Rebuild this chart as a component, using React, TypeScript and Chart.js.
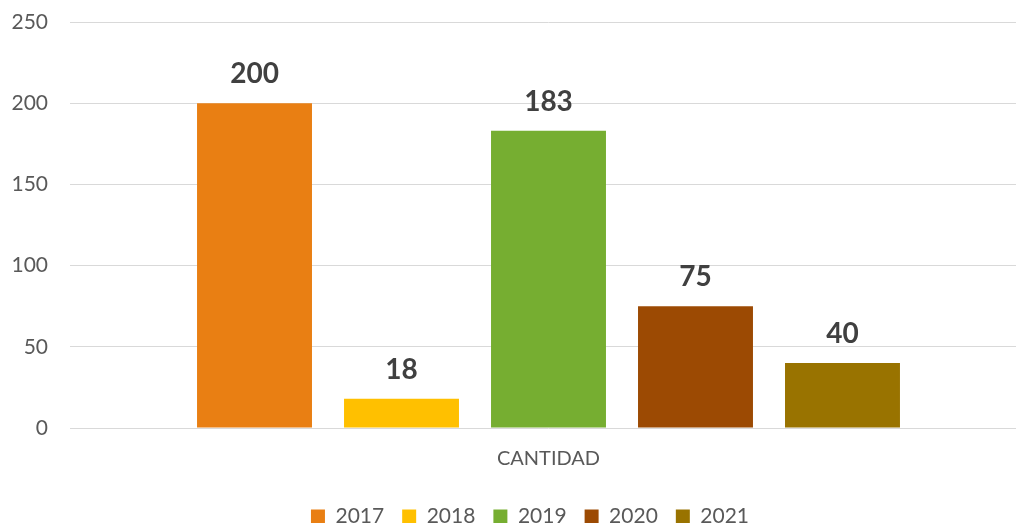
import React, { useEffect, useRef } from "react";
import { Chart, registerables } from "chart.js";

Chart.register(...registerables);

const categories = ["CANTIDAD"];
const seriesNames = ["2017", "2018", "2019", "2020", "2021"];
const seriesValues = [[200], [18], [183], [75], [40]];
const seriesColors = ["#E97F13", "#FFC000", "#76AE31", "#9C4A03", "#997300"];
const yTicks = [0, 50, 100, 150, 200, 250];

const FONT = "Lato, Carlito, 'Open Sans', sans-serif";

const dataLabels = {
  id: "dataLabels",
  afterLayout(chart: any) {
    if (chart.legend) {
      chart.legend.left += 11;
      chart.legend.right += 11;
    }
  },
  afterDatasetsDraw(chart: any) {
    const ctx = chart.ctx;
    ctx.save();
    ctx.font = `bold 28px ${FONT}`;
    ctx.fillStyle = "#404040";
    ctx.textAlign = "center";
    ctx.textBaseline = "alphabetic";
    chart.data.datasets.forEach((ds: any, i: number) => {
      const meta = chart.getDatasetMeta(i);
      meta.data.forEach((bar: any, j: number) => {
        ctx.fillText(String(ds.data[j]), bar.x, bar.y - 20);
      });
    });
    ctx.restore();
  },
};

export default function App() {
  const ref = useRef<HTMLCanvasElement>(null);
  useEffect(() => {
    document.body.style.margin = "0";
    const canvas = ref.current!;
    const chart = new Chart(canvas, {
      type: "bar",
      data: {
        labels: categories,
        datasets: seriesNames.map((name, i) => ({
          label: name,
          data: seriesValues[i],
          backgroundColor: seriesColors[i],
          borderWidth: 0,
          categoryPercentage: 0.768,
          barPercentage: 0.782,
        })),
      },
      options: {
        responsive: false,
        animation: false,
        layout: { padding: { top: 22, left: 11, right: 0, bottom: 0 } },
        plugins: {
          tooltip: { enabled: false },
          legend: {
            position: "bottom",
            labels: {
              boxWidth: 14,
              boxHeight: 14,
              padding: 18,
              color: "#595959",
              font: { family: FONT, size: 21 },
            },
          },
        },
        scales: {
          x: {
            grid: { display: false, drawTicks: false },
            border: { display: false },
            ticks: {
              color: "#595959",
              padding: 19,
              font: { family: FONT, size: 20 },
            },
            afterFit(scale: any) {
              scale.height = 60;
              scale.paddingLeft = 0;
              scale.paddingRight = 0;
            },
          },
          y: {
            min: 0,
            max: 250,
            afterBuildTicks(scale: any) {
              scale.ticks = yTicks.map((v) => ({ value: v }));
            },
            grid: { color: "#D9D9D9", lineWidth: 1, drawTicks: false },
            border: { display: false },
            ticks: {
              color: "#595959",
              padding: 22,
              font: { family: FONT, size: 21 },
            },
            afterFit(scale: any) {
              scale.width = 59;
              scale.paddingTop = 0;
              scale.paddingBottom = 0;
            },
          },
        },
      },
      plugins: [dataLabels],
    });
    return () => chart.destroy();
  }, []);
  return (
    <div style={{ width: 1016, height: 523, overflow: "hidden", position: "relative", background: "#fff" }}>
      <canvas ref={ref} width={1027} height={537} style={{ display: "block" }} />
    </div>
  );
}
